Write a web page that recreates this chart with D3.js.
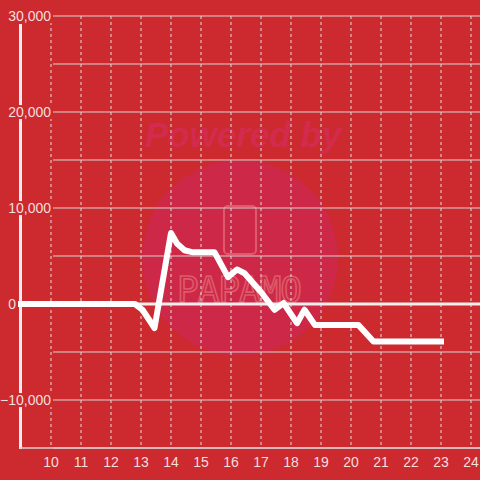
<!DOCTYPE html>
<html>
<head>
<meta charset="utf-8">
<script src="https://cdn.jsdelivr.net/npm/d3@7"></script>
<style>
  html, body { margin: 0; padding: 0; background: #cc2a2e; }
  svg { display: block; font-family: "Liberation Sans", Arial, sans-serif; }
</style>
</head>
<body>
<div id="chart"></div>
<script>
// hour of day vs value
const hours = [9, 12.8, 13.05, 13.45, 14, 14.2, 14.45, 14.7, 15.45, 15.9, 16.2, 16.45, 17, 17.45, 17.75, 18.2, 18.45, 18.8, 20.25, 20.75, 23];
const values = [0, 0, -600, -2500, 7400, 6300, 5600, 5400, 5400, 2800, 3600, 3200, 1250, -600, 100, -2000, -600, -2200, -2200, -3900, -3900];
const xTicks = [10, 11, 12, 13, 14, 15, 16, 17, 18, 19, 20, 21, 22, 23, 24];
const yTicks = [-10000, 0, 10000, 20000, 30000];
const yGrid = [-15000, -10000, -5000, 0, 5000, 10000, 15000, 20000, 25000, 30000];

const width = 480, height = 480;
const bg = "#cc2a2e";

const svg = d3.select("#chart")
  .append("svg")
  .attr("width", width)
  .attr("height", height);

svg.append("rect").attr("width", width).attr("height", height).attr("fill", bg);

const x = d3.scaleLinear().domain([9, 24.3]).range([21, 480]);
const y = d3.scaleLinear().domain([-15000, 30000]).range([448, 16]);

// watermark
const wm = svg.append("g");
wm.append("circle").attr("cx", 240).attr("cy", 258).attr("r", 98).attr("fill", "#cd2847");
wm.append("text")
  .attr("x", 243).attr("y", 147)
  .attr("text-anchor", "middle")
  .style("font-size", "35px")
  .style("font-weight", "bold")
  .style("font-style", "italic")
  .attr("fill", "#d22b4e")
  .text("Powered by");
wm.append("rect")
  .attr("x", 224).attr("y", 206).attr("width", 32).attr("height", 48).attr("rx", 4)
  .attr("fill", "none").attr("stroke", "#dd5a6a").attr("stroke-width", 2);
wm.append("text")
  .attr("x", 239).attr("y", 302)
  .attr("text-anchor", "middle")
  .style("font-size", "36px")
  .style("font-family", "'DejaVu Sans Mono', monospace")
  .style("letter-spacing", "-1px")
  .attr("fill", "none").attr("stroke", "#dd5a6a").attr("stroke-width", 1.6)
  .text("PAPAMO");

// horizontal gridlines
svg.append("g")
  .selectAll("line")
  .data(yGrid)
  .enter().append("line")
  .attr("x1", 53).attr("x2", width)
  .attr("y1", d => y(d)).attr("y2", d => y(d))
  .attr("stroke", "#d8d0d0").attr("stroke-width", 1.2);

// vertical dotted gridlines
svg.append("g")
  .selectAll("line")
  .data(xTicks)
  .enter().append("line")
  .attr("x1", d => x(d)).attr("x2", d => x(d))
  .attr("y1", y(30000)).attr("y2", y(-15000))
  .attr("stroke", "#e8dada").attr("stroke-width", 1)
  .attr("stroke-dasharray", "3,3");

// zero baseline
svg.append("line")
  .attr("x1", 21).attr("x2", width)
  .attr("y1", y(0)).attr("y2", y(0))
  .attr("stroke", "#f2eeee").attr("stroke-width", 3);

// axes lines
svg.append("line")
  .attr("x1", 20.5).attr("x2", 20.5)
  .attr("y1", y(30000) + 8).attr("y2", y(-15000) + 1)
  .attr("stroke", "#f2eeee").attr("stroke-width", 3);
svg.append("line")
  .attr("x1", 20).attr("x2", width)
  .attr("y1", y(-15000)).attr("y2", y(-15000))
  .attr("stroke", "#d8d0d0").attr("stroke-width", 1.5);

// data line
const line = d3.line()
  .x((d, i) => x(hours[i]))
  .y(d => y(d));

svg.append("path")
  .attr("d", line(values))
  .attr("fill", "none")
  .attr("stroke", "#ffffff")
  .attr("stroke-width", 6)
  .attr("stroke-linejoin", "round")
  .attr("stroke-linecap", "square");

// y labels with background boxes
const yl = svg.append("g")
  .selectAll("g")
  .data(yTicks)
  .enter().append("g")
  .attr("transform", d => `translate(${d === 0 ? 16 : 51},${y(d)})`);
yl.append("text")
  .attr("text-anchor", "end")
  .attr("dy", "0.36em")
  .style("font-size", "14px")
  .attr("fill", "#f4dede")
  .text(d => d3.format(",")(d))
  .each(function (d) {
    if (d === 0) return;
    const b = this.getBBox();
    d3.select(this.parentNode).insert("rect", "text")
      .attr("x", b.x - 1).attr("y", b.y + 1)
      .attr("width", b.width + 2).attr("height", b.height - 2)
      .attr("fill", bg);
  });

// x labels
svg.append("g")
  .selectAll("text")
  .data(xTicks)
  .enter().append("text")
  .attr("x", d => x(d))
  .attr("y", 467)
  .attr("text-anchor", "middle")
  .style("font-size", "14px")
  .attr("fill", "#f4dede")
  .text(d => d);
</script>
</body>
</html>
